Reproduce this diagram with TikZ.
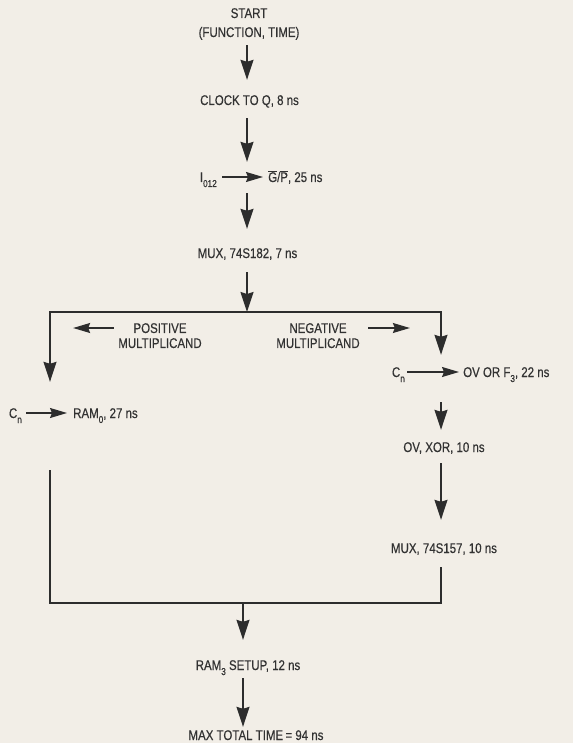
\documentclass[tikz,border=0pt]{standalone}
\usepackage{fontspec}
\setmainfont{Liberation Sans}[FakeStretch=0.82,FakeBold=0.4]
\usetikzlibrary{arrows.meta}
\definecolor{paper}{RGB}{242,238,231}
\definecolor{ink}{RGB}{45,45,45}
\definecolor{txt}{RGB}{50,50,50}
\newcommand{\subtxt}[1]{\raisebox{-5pt}{\fontsize{10}{10}\selectfont #1}}
\tikzset{
  lbl/.style={inner sep=0pt, text height=10pt, text depth=0pt, text=txt, font=\fontsize{14}{15}\selectfont},
  lbltwo/.style={inner sep=0pt, align=center, text=txt, font=\fontsize{14}{15}\selectfont},
  wire/.style={draw=ink, line width=1.3pt, line cap=rect},
  varr/.style={wire, -{Stealth[length=20pt,width=13pt,inset=2pt]}},
  harr/.style={wire, -{Stealth[length=17pt,width=10pt,inset=2pt]}},
}
\begin{document}
\begin{tikzpicture}[x=1pt,y=-1pt]
\fill[paper] (0,0) rectangle (573,743);
\useasboundingbox (0,0) rectangle (573,743);

% axes and junctions
\coordinate (cax) at (247,0);
\coordinate (jt) at (247,312);
\coordinate (tl) at (50,312);
\coordinate (tr) at (441,312);
\coordinate (bl) at (50,603);
\coordinate (br) at (441,603);
\coordinate (bm) at (243,603);

% labels
\node[lbl] (start) at (249,13) {START};
\node[lbl] (fn) at (249,32) {(FUNCTION, TIME)};
\node[lbl] (clock) at (249.5,100) {CLOCK TO Q, 8 ns};
\node[lbl, anchor=east] (i012) at (217,177) {I\subtxt{012}};
\node[lbl, anchor=west] (gp) at (268,177) {$\overline{\mbox{G}}$/$\overline{\mbox{P}}$, 25 ns};
\node[lbl] (mux1) at (247.5,253) {MUX, 74S182, 7 ns};
\node[lbltwo, anchor=north] (pos) at (160,323) {POSITIVE\\MULTIPLICAND};
\node[lbltwo, anchor=north] (neg) at (318,323) {NEGATIVE\\MULTIPLICAND};
\node[lbl, anchor=east] (cn1) at (22,413) {C\subtxt{n}};
\node[lbl, anchor=west] (ram0) at (73,413) {RAM\subtxt{0}, 27 ns};
\node[lbl, anchor=east] (cn2) at (405,372) {C\subtxt{n}};
\node[lbl, anchor=west] (ovor) at (463,372) {OV OR F\subtxt{3}, 22 ns};
\node[lbl] (ovxor) at (444,447) {OV, XOR, 10 ns};
\node[lbl] (mux2) at (444,548) {MUX, 74S157, 10 ns};
\node[lbl] (ram3) at (248,665) {RAM\subtxt{3} SETUP, 12 ns};
\node[lbl] (maxt) at (256,735) {MAX TOTAL TIME\,= 94 ns};

% main column
\draw[varr, shorten <=8pt, shorten >=15pt] (fn.south -| cax) -- (clock.north -| cax);
\draw[varr, shorten <=13pt, shorten >=10pt] (clock.south -| cax) -- (gp.north -| cax);
\draw[harr, shorten <=6pt, shorten >=5pt] (i012.east) -- (gp.west);
\draw[varr, shorten <=11pt, shorten >=19pt] (gp.south -| cax) -- (mux1.north -| cax);
\draw[varr, shorten <=14pt] (mux1.south -| cax) -- (jt);
\draw[wire] (tl) -- (tr);

% branch labels
\draw[harr, shorten <=5pt] ([yshift=-5pt]pos.north west) -- ++(-45,0);
\draw[harr, shorten <=9pt] ([yshift=-5pt]neg.north east) -- ++(50,0);

% left branch
\draw[varr, shorten >=26pt] (tl) -- (tl |- cn1.north);
\draw[harr, shorten <=5pt, shorten >=6pt] (cn1.east) -- (ram0.west);
\draw[wire, shorten <=52pt] (tl |- cn1.south) -- (bl);

% right branch
\draw[varr, shorten >=12pt] (tr) -- (tr |- cn2.north);
\draw[harr, shorten <=3pt, shorten >=4pt] (cn2.east) -- (ovor.west);
\draw[varr, shorten <=25pt, shorten >=12pt] (tr |- cn2.south) -- (tr |- ovxor.north);
\draw[varr, shorten <=11pt, shorten >=23pt] (tr |- ovxor.south) -- (tr |- mux2.north);
\draw[wire, shorten <=14pt] (tr |- mux2.south) -- (br);

% merge
\draw[wire] (bl) -- (br);
\draw[varr, shorten >=20pt] (bm) -- (bm |- ram3.north);
\draw[varr, shorten <=8pt, shorten >=3pt] (ram3.south -| bm) -- (maxt.north -| bm);
\end{tikzpicture}
\end{document}
